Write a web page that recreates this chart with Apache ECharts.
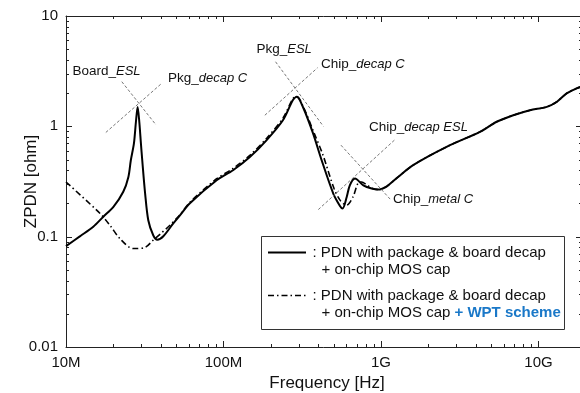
<!DOCTYPE html>
<html>
<head>
<meta charset="utf-8">
<script src="https://cdn.jsdelivr.net/npm/echarts@6/dist/echarts.min.js"></script>
<style>
  html, body { margin: 0; padding: 0; background: #fff; }
  #chart { width: 580px; height: 393px; }
</style>
</head>
<body>
<div id="chart"></div>
<script>
// PDN with package & board decap + on-chip MOS cap
const freqSolid = [1.0e7, 1.23e7, 1.49e7, 1.72e7, 2.00e7, 2.31e7, 2.49e7, 2.58e7, 2.70e7, 2.78e7, 2.85e7, 2.92e7, 2.99e7, 3.05e7,
  3.18e7, 3.33e7, 3.58e7, 3.80e7, 4.15e7, 4.80e7, 5.29e7, 6.12e7, 9.05e7, 1.15e8, 1.47e8, 1.88e8, 2.39e8, 2.76e8, 2.92e8,
  3.20e8, 3.70e8, 4.20e8, 4.98e8, 5.49e8, 5.70e8, 6.06e8, 6.34e8, 6.84e8, 7.73e8, 8.73e8, 9.62e8, 1.09e9, 1.26e9, 1.60e9,
  2.61e9, 4.25e9, 5.43e9, 6.92e9, 8.83e9, 1.13e10, 1.31e10, 1.51e10, 1.75e10, 1.89e10];
const zSolid = [0.082, 0.101, 0.123, 0.151, 0.186, 0.255, 0.348, 0.493, 0.70, 1.10, 1.50, 1.10, 0.70, 0.49,
  0.246, 0.141, 0.103, 0.094, 0.101, 0.132, 0.156, 0.201, 0.325, 0.40, 0.526, 0.75, 1.14, 1.73, 1.85,
  1.49, 0.867, 0.493, 0.246, 0.19, 0.18, 0.229, 0.292, 0.336, 0.292, 0.273, 0.267, 0.286, 0.34, 0.445,
  0.652, 0.891, 1.10, 1.26, 1.40, 1.50, 1.67, 1.99, 2.21, 2.30];

// ... + WPT scheme
const freqWpt = [1.0e7, 1.64e7, 1.90e7, 2.20e7, 2.67e7, 3.18e7, 3.58e7, 3.95e7, 4.57e7, 5.29e7, 6.12e7, 9.05e7, 1.15e8,
  1.47e8, 1.88e8, 2.39e8, 2.76e8, 2.92e8, 3.20e8, 3.75e8, 4.28e8, 5.05e8, 5.55e8, 6.05e8, 6.64e8, 7.15e8, 7.54e8, 8.11e8,
  8.73e8, 9.62e8, 1.09e9, 1.26e9, 1.60e9, 2.61e9, 4.25e9, 5.43e9, 6.92e9, 8.83e9, 1.13e10, 1.31e10, 1.51e10, 1.75e10, 1.89e10];
const zWpt = [0.313, 0.163, 0.127, 0.096, 0.078, 0.080, 0.093, 0.105, 0.127, 0.158, 0.205, 0.335, 0.415,
  0.545, 0.78, 1.19, 1.78, 1.86, 1.52, 0.88, 0.55, 0.27, 0.21, 0.193, 0.229, 0.305, 0.313, 0.295,
  0.275, 0.267, 0.286, 0.34, 0.445, 0.652, 0.891, 1.10, 1.26, 1.40, 1.50, 1.67, 1.99, 2.21, 2.30];

const xTickLabels = { 7: '10M', 8: '100M', 9: '1G', 10: '10G' };
const xMin = 1e7, xMax = 1.89e10;
const yMin = 0.01, yMax = 10;

// resonance guide lines, [freq, ohm] end points
const guides = [
  [[1.79e7, 0.88], [4.05e7, 2.45]],
  [[2.26e7, 2.54], [3.73e7, 1.03]],
  [[1.83e8, 1.26], [3.96e8, 3.40]],
  [[2.14e8, 3.85], [4.31e8, 1.00]],
  [[4.00e8, 0.176], [1.23e9, 0.76]],
  [[5.57e8, 0.675], [1.15e9, 0.217]]
];

// tick positions: decades (major) and 2..9 x decade (minor)
const xMajor = [1e7, 1e8, 1e9, 1e10];
const yMajor = [0.01, 0.1, 1, 10];
const xMinor = [];
for (let e = 7; e <= 10; e++) for (let k = 2; k <= 9; k++) if (k * 10 ** e < xMax) xMinor.push(k * 10 ** e);
const yMinor = [];
for (let e = -2; e <= 0; e++) for (let k = 2; k <= 9; k++) yMinor.push(k * 10 ** e);

const FONT = '"Liberation Sans", Arial, sans-serif';
const INK = '#222';

const chart = echarts.init(document.getElementById('chart'));

function pairs(xs, ys) { return xs.map((x, i) => [x, ys[i]]); }

function xLabel(v) {
  const e = Math.round(Math.log10(v));
  return Math.abs(Math.log10(v) - e) < 1e-6 ? (xTickLabels[e] || '') : '';
}

function seg(x1, y1, x2, y2) {
  return { type: 'line', shape: { x1, y1, x2, y2 }, style: { stroke: INK, lineWidth: 1 } };
}

// inward ticks on the bottom and top frame lines
function xTicks(len) {
  return function (params, api) {
    const f = api.value(0);
    const b = api.coord([f, yMin]);
    const t = api.coord([f, yMax]);
    const px = Math.round(b[0]) + 0.5;
    return { type: 'group', children: [seg(px, b[1], px, b[1] - len), seg(px, t[1], px, t[1] + len)] };
  };
}

// inward ticks on the left and right frame lines
function yTicks(len) {
  return function (params, api) {
    const z = api.value(1);
    const l = api.coord([xMin, z]);
    const r = api.coord([xMax, z]);
    const py = Math.round(l[1]) + 0.5;
    return { type: 'group', children: [seg(l[0], py, l[0] + len, py), seg(r[0], py, r[0] - len, py)] };
  };
}

function tickSeries(data, render) {
  return { type: 'custom', data, renderItem: render, silent: true, clip: false, z: 1 };
}

function frameAxis(min, max, position, extra) {
  return Object.assign({
    type: 'log', min, max, position,
    axisLine: { show: true, lineStyle: { color: INK, width: 1 } },
    axisTick: { show: false },
    axisLabel: { show: false },
    splitLine: { show: false }
  }, extra);
}

const normal = { fontFamily: FONT, fontSize: 13.5, fill: '#111' };
const ital = { fontFamily: FONT, fontSize: 13, fontStyle: 'italic', fill: '#111' };
function note(x, y, text) {
  return { type: 'text', z: 50, style: { x, y, text, verticalAlign: 'middle', rich: { n: normal, i: ital }, ...normal } };
}

const legendText = { fontFamily: FONT, fontSize: 15, fill: '#111' };

chart.setOption({
  animation: false,
  grid: { left: 66, top: 16, width: 516, height: 331, outerBoundsMode: 'none' },
  xAxis: [
    frameAxis(xMin, xMax, 'bottom', {
      name: 'Frequency [Hz]', nameLocation: 'middle', nameGap: 28, nameMoveOverlap: false,
      nameTextStyle: { fontFamily: FONT, fontSize: 17, color: '#111', padding: [0, 0, 0, 6] },
      axisLabel: { formatter: xLabel, fontFamily: FONT, fontSize: 15, color: '#111', margin: 8 }
    }),
    frameAxis(xMin, xMax, 'top')
  ],
  yAxis: [
    frameAxis(yMin, yMax, 'left', {
      name: 'ZPDN [ohm]', nameLocation: 'middle', nameGap: 26, nameMoveOverlap: false,
      nameTextStyle: { fontFamily: FONT, fontSize: 17, color: '#111' },
      axisLabel: { fontFamily: FONT, fontSize: 15, color: '#111', margin: 8 }
    }),
    frameAxis(yMin, yMax, 'right')
  ],
  series: [
    {
      type: 'line', name: 'base', data: pairs(freqSolid, zSolid),
      showSymbol: false, smooth: 0.3, z: 3,
      lineStyle: { color: '#000', width: 2 },
      markLine: {
        silent: true, symbol: 'none', label: { show: false },
        lineStyle: { color: '#777', width: 1, type: [3, 2] },
        data: guides.map(g => [{ coord: g[0] }, { coord: g[1] }])
      }
    },
    {
      type: 'line', name: 'wpt', data: pairs(freqWpt, zWpt),
      showSymbol: false, smooth: 0.3, z: 2,
      lineStyle: { color: '#000', width: 1.6, type: [6, 3, 1.5, 3] }
    },
    tickSeries(xMajor.map(f => [f, yMin]), xTicks(6)),
    tickSeries(xMinor.map(f => [f, yMin]), xTicks(3)),
    tickSeries(yMajor.map(z => [xMin, z]), yTicks(6)),
    tickSeries(yMinor.map(z => [xMin, z]), yTicks(3))
  ],
  graphic: [
    note(72.5, 71, '{n|Board_}{i|ESL}'),
    note(168, 78, '{n|Pkg_}{i|decap C}'),
    note(256.5, 49, '{n|Pkg_}{i|ESL}'),
    note(321, 64.5, '{n|Chip_}{i|decap C}'),
    note(369, 127, '{n|Chip_}{i|decap ESL}'),
    note(393, 199.5, '{n|Chip_}{i|metal C}'),
    {
      type: 'group', z: 60,
      children: [
        { type: 'rect', shape: { x: 261.5, y: 236.5, width: 303, height: 93 }, style: { fill: '#fff', stroke: '#333', lineWidth: 1 } },
        { type: 'line', shape: { x1: 268, y1: 252.5, x2: 306, y2: 252.5 }, style: { stroke: '#000', lineWidth: 2 } },
        { type: 'line', shape: { x1: 268, y1: 295.5, x2: 306, y2: 295.5 }, style: { stroke: '#000', lineWidth: 1.6, lineDash: [6, 3, 1.5, 3] } },
        { type: 'text', style: { x: 312.5, y: 253, text: ': PDN with package & board decap', verticalAlign: 'middle', ...legendText } },
        { type: 'text', style: { x: 321.5, y: 270, text: '+ on-chip MOS cap', verticalAlign: 'middle', ...legendText } },
        { type: 'text', style: { x: 312.5, y: 295.5, text: ': PDN with package & board decap', verticalAlign: 'middle', ...legendText } },
        {
          type: 'text',
          style: {
            x: 321.5, y: 312.5, verticalAlign: 'middle', ...legendText,
            text: '{a|+ on-chip MOS cap }{b|+ WPT scheme}',
            rich: { a: legendText, b: { ...legendText, fontWeight: 'bold', fill: '#1a78c8' } }
          }
        }
      ]
    }
  ]
});
</script>
</body>
</html>
